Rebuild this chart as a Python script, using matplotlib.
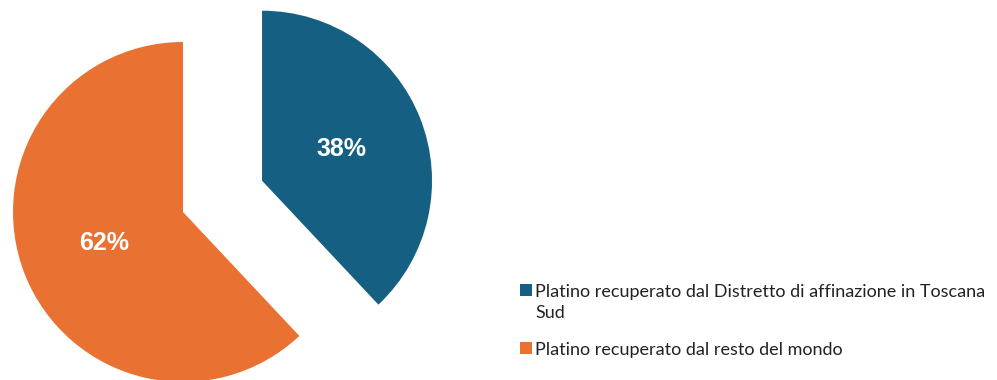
import matplotlib.pyplot as plt
from matplotlib.patches import Rectangle

# Dati
etichette = ["Platino recuperato dal Distretto di affinazione in Toscana\nSud",
             "Platino recuperato dal resto del mondo"]
valori = [38, 62]
colori = ["#156082", "#E97132"]

W, H = 997, 380
fig = plt.figure(figsize=(W / 100, H / 100), dpi=100)
ax = fig.add_axes([0, 0, 1, 1])

# centro torta in pixel e raggio
cx, cy, r = 183, H - 212, 170

wedges, testi, pct = ax.pie(valori, colors=colori, startangle=90, counterclock=False,
                            explode=[0.5, 0], radius=1, center=(0, 0),
                            autopct="%1.0f%%", pctdistance=0.5)
for t in pct:
    t.set_color("white")
    t.set_fontsize(18)
    t.set_fontweight("bold")
    t.set_family("Liberation Sans")
ax.set_xlim(-cx / r, (W - cx) / r)
ax.set_ylim(-cy / r, (H - cy) / r)
ax.set_aspect("auto")
ax.axis("off")

# legenda fatta a mano: quadratino allineato alla prima riga
righe_y = [290, 348]  # centro della prima riga di ogni voce, in pixel dall'alto
for col, lab, yy in zip(colori, etichette, righe_y):
    fig.patches.append(Rectangle((520 / W, 1 - (yy + 6) / H), 12 / W, 12 / H,
                                 transform=fig.transFigure, facecolor=col, edgecolor="none"))
    fig.text(535 / W, 1 - (yy - 6) / H, lab, family="Lato", fontsize=13.0, color="#222222",
             va="top", ha="left", linespacing=1.35)

fig.savefig("out.png", dpi=100)
